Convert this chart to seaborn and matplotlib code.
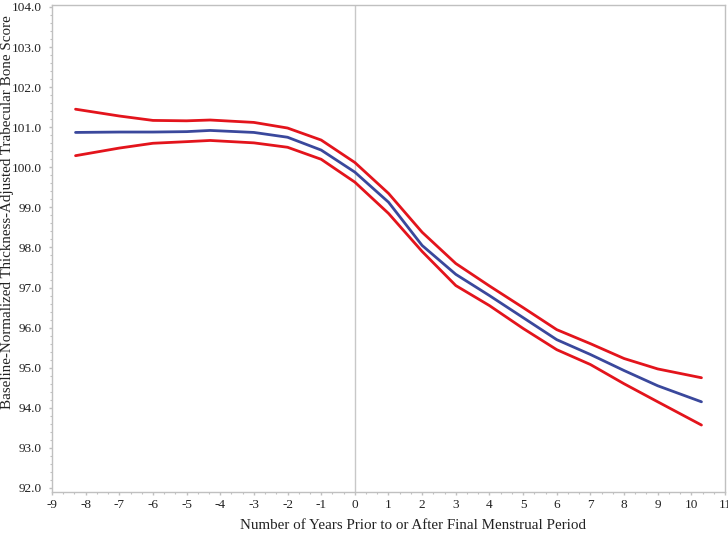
import matplotlib
matplotlib.use("Agg")
import matplotlib.pyplot as plt
from matplotlib.ticker import MultipleLocator, AutoMinorLocator, FormatStrFormatter
import seaborn as sns
import numpy as np

# years relative to final menstrual period
years = [-8.3, -7, -6, -5, -4.3, -3, -2, -1, 0, 1, 2, 3, 4, 5, 6, 7, 8, 9, 10.3]
# estimated mean TBS and 95% confidence limits
mean_tbs = [100.87, 100.88, 100.88, 100.89, 100.92, 100.87, 100.75, 100.43, 99.88,
            99.13, 98.05, 97.33, 96.80, 96.25, 95.70, 95.33, 94.93, 94.55, 94.15]
upper_ci = [101.45, 101.28, 101.17, 101.16, 101.18, 101.12, 100.98, 100.68, 100.12,
            99.35, 98.38, 97.60, 97.04, 96.50, 95.95, 95.60, 95.23, 94.97, 94.75]
lower_ci = [100.29, 100.48, 100.60, 100.64, 100.67, 100.61, 100.50, 100.20, 99.63,
            98.85, 97.90, 97.05, 96.55, 95.98, 95.45, 95.08, 94.60, 94.15, 93.57]

sns.set_style("white")
plt.rcParams['font.family'] = ['Liberation Serif', 'DejaVu Serif']
plt.rcParams['axes.unicode_minus'] = False

fig = plt.figure(figsize=(7.28, 5.35), dpi=100)
ax = fig.add_axes([0.0714, 0.0804, 0.9245, 0.9103])

grey = "#c0c0c0"
ax.axvline(0, color="#c8c8c8", lw=1.0, zorder=1)

sns.lineplot(x=years, y=upper_ci, ax=ax, color="#e3141c", lw=2.0)
sns.lineplot(x=years, y=lower_ci, ax=ax, color="#e3141c", lw=2.0)
sns.lineplot(x=years, y=mean_tbs, ax=ax, color="#3a489c", lw=2.0)

ax.set_xlim(-9, 11)
ax.set_ylim(91.9, 104.05)
ax.xaxis.set_major_locator(MultipleLocator(1))
ax.xaxis.set_minor_locator(AutoMinorLocator(3))
ax.yaxis.set_major_locator(MultipleLocator(1))
ax.yaxis.set_minor_locator(AutoMinorLocator(5))
ax.yaxis.set_major_formatter(FormatStrFormatter("%.1f"))

for s in ax.spines.values():
    s.set_color(grey)
    s.set_linewidth(1.0)
ax.tick_params(which="major", direction="out", length=2.5, width=1, color=grey,
               labelsize=9.5, labelcolor="#222222", bottom=True, left=True)
ax.tick_params(axis="y", which="major", pad=5)
ax.tick_params(axis="x", which="major", pad=2.5)
ax.tick_params(which="minor", direction="out", length=1.6, width=0.8, color=grey,
               bottom=True, left=True)

ax.set_xlabel("Number of Years Prior to or After Final Menstrual Period",
              fontsize=10.8, color="#222222", va="center")
ax.set_ylabel("Baseline-Normalized Thickness-Adjusted Trabecular Bone Score",
              fontsize=10.8, color="#222222", va="center")
ax.xaxis.set_label_coords(0.537, -0.068)
ax.yaxis.set_label_coords(-0.066, 0.574)

fig.savefig("out.png", dpi=100)
plt.close(fig)
